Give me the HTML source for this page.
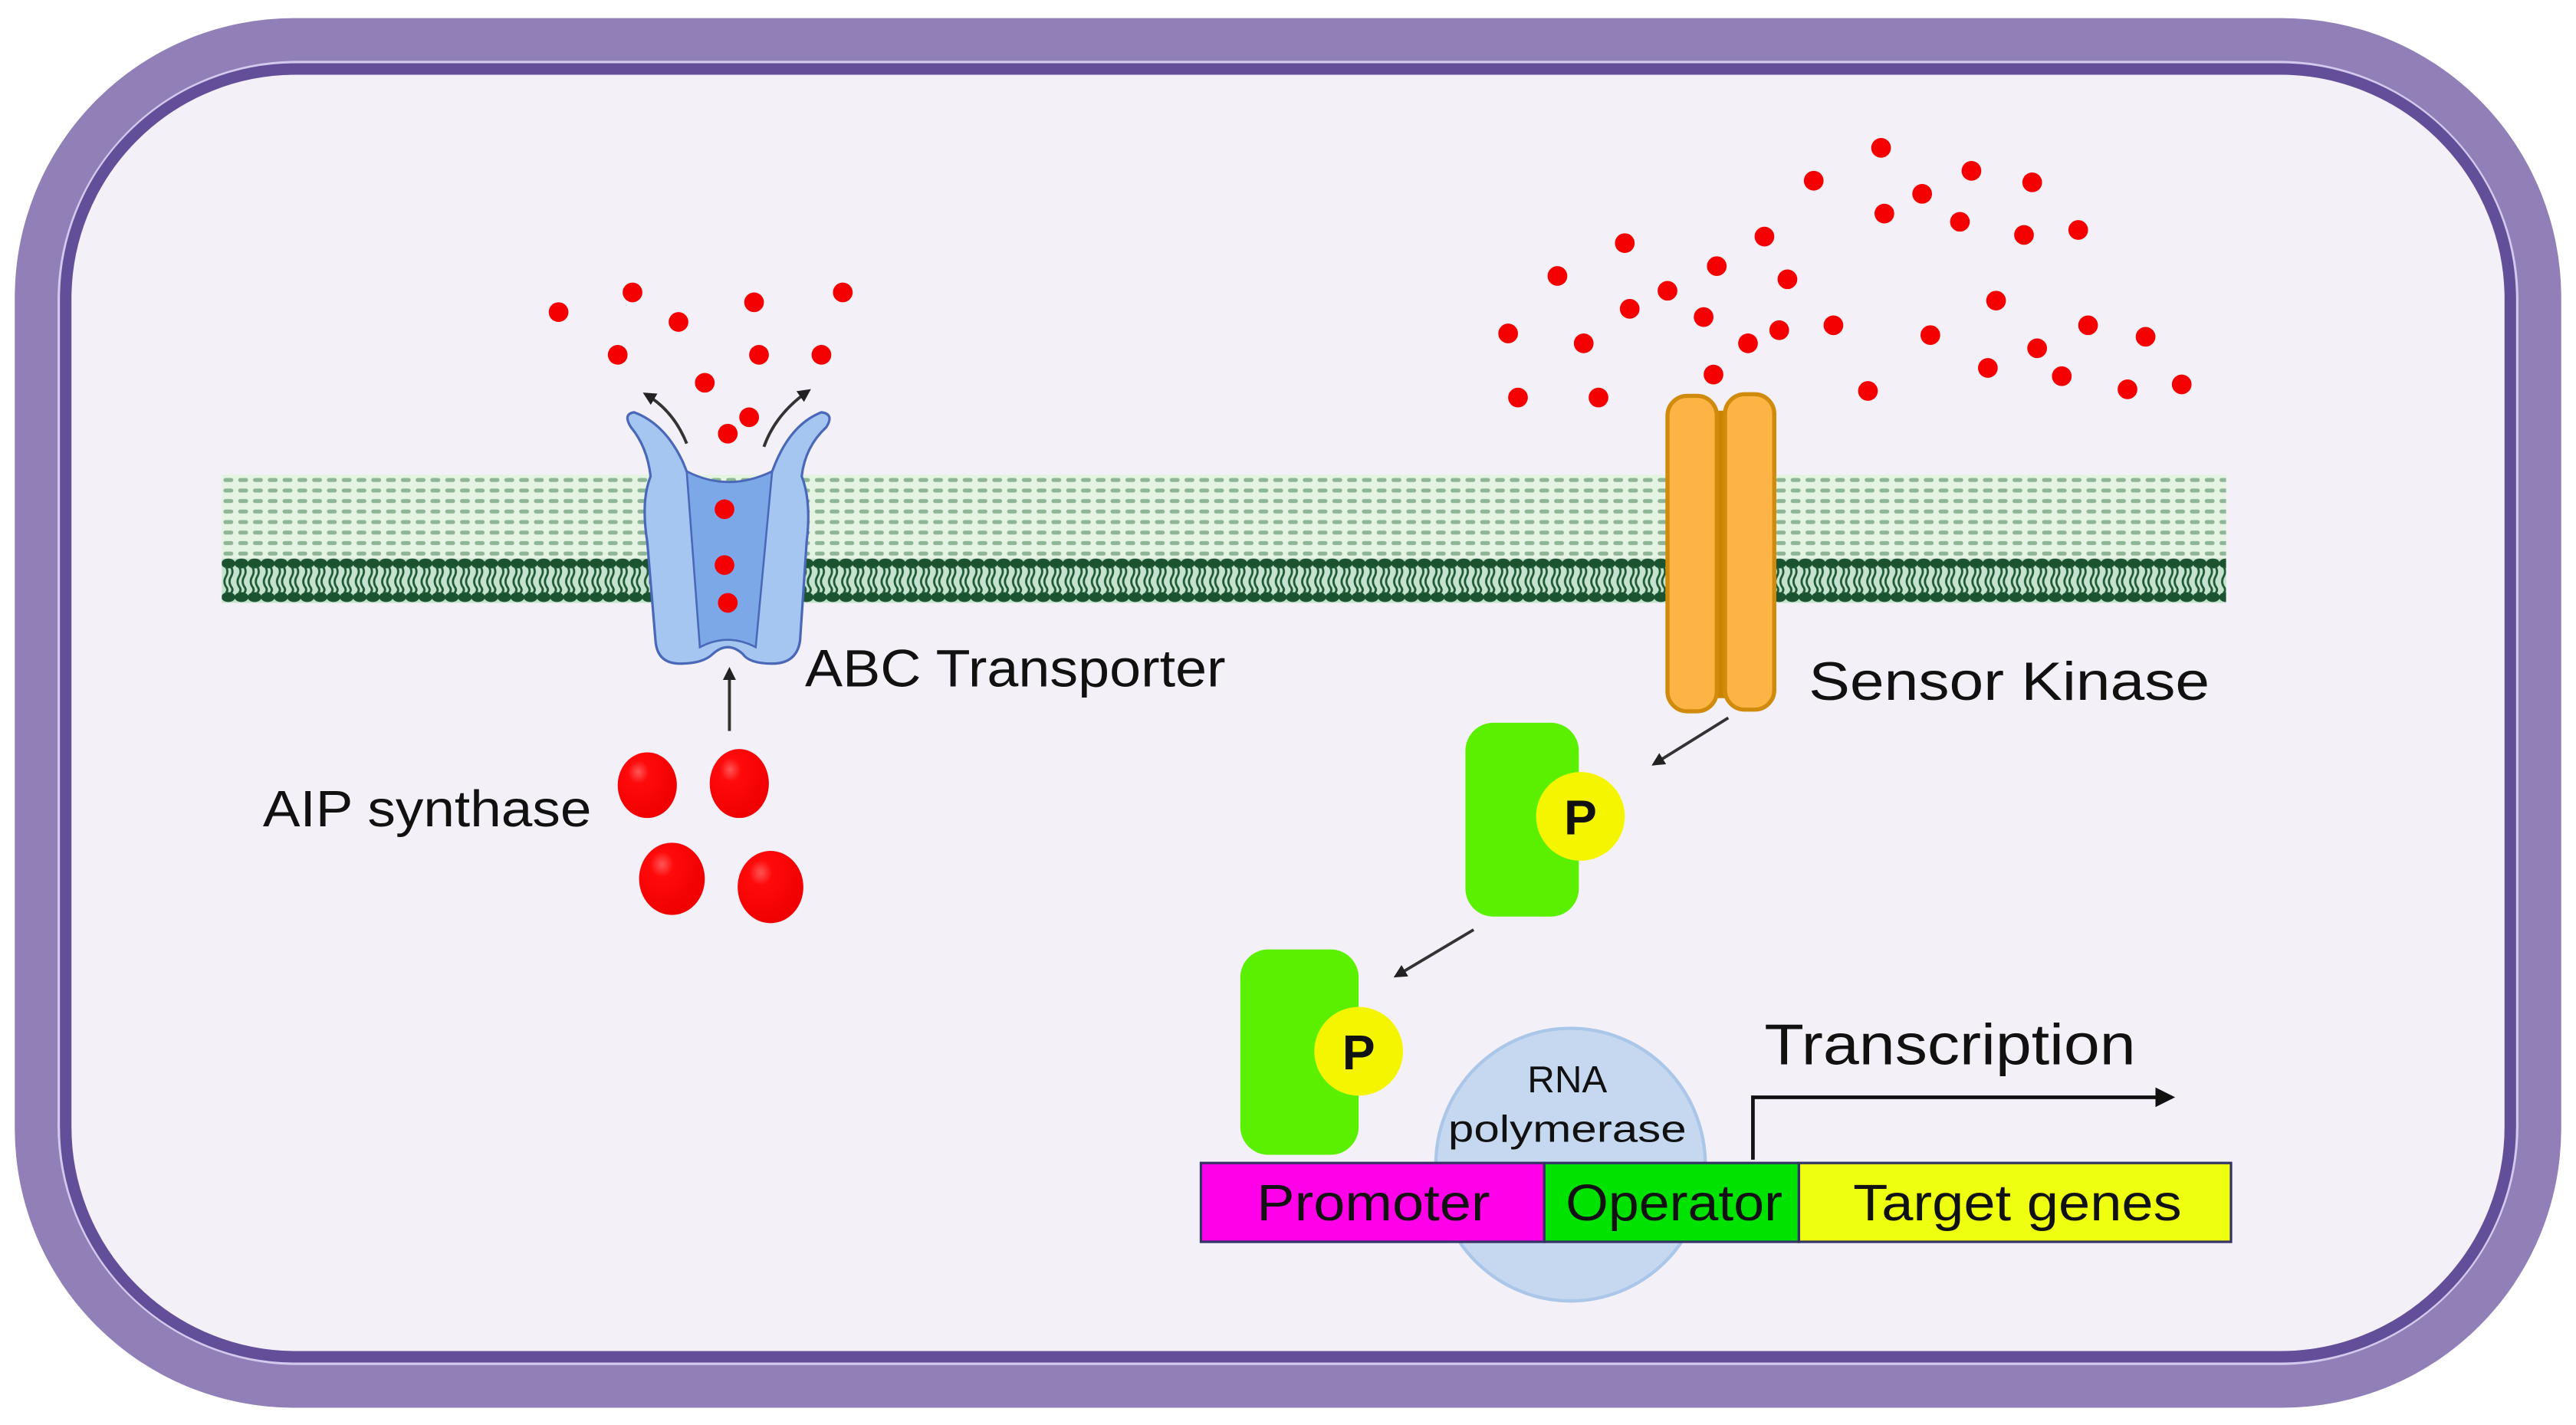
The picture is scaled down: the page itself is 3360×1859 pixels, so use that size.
<!DOCTYPE html>
<html><head><meta charset="utf-8"><style>
html,body{margin:0;padding:0;background:#fff;}
svg{display:block;}
text{font-family:"Liberation Sans",sans-serif;fill:#111;}
</style></head><body>
<svg width="3360" height="1859" viewBox="0 0 1568 867.5" xmlns="http://www.w3.org/2000/svg">
<defs>
<pattern id="lip" x="135" y="289" width="9" height="6.4" patternUnits="userSpaceOnUse">
<rect width="9" height="6.4" fill="#e4f3e2"/>
<rect x="1" y="2" width="6" height="2.4" rx="1.2" fill="#8fb597"/>
</pattern>
<pattern id="heads" x="135" y="340" width="8" height="27" patternUnits="userSpaceOnUse">
<rect width="8" height="27" fill="#c4e2cd"/>
<ellipse cx="4" cy="3" rx="4.2" ry="3" fill="#1b5230"/>
<ellipse cx="4" cy="23.5" rx="4.2" ry="3" fill="#1b5230"/>
<path d="M2.5 5 q1.8 3 0 6 q-1.8 3 0 6 q1.8 2 0 4 M5.6 5 q1.8 3 0 6 q-1.8 3 0 6 q1.8 2 0 4" stroke="#1f5a36" stroke-width="1.3" fill="none"/>
</pattern>
<marker id="ah" markerWidth="8" markerHeight="8" refX="6" refY="4" orient="auto" markerUnits="userSpaceOnUse">
<path d="M0 0 L8 4 L0 8 Z" fill="#222"/>
</marker>
<marker id="ah2" markerWidth="12" markerHeight="12" refX="10" refY="6" orient="auto" markerUnits="userSpaceOnUse">
<path d="M0 0 L12 6 L0 12 Z" fill="#111"/>
</marker>
<radialGradient id="rb" cx="0.35" cy="0.3" r="0.7">
<stop offset="0" stop-color="#ff5555"/><stop offset="0.25" stop-color="#ff0a0a"/><stop offset="1" stop-color="#f00000"/>
</radialGradient>
</defs>
<rect width="1568" height="867.5" fill="#fff"/>
<rect x="9" y="11" width="1550" height="846" rx="170" fill="#917fb8"/>
<rect x="36" y="38" width="1496" height="792" rx="145" fill="none" stroke="#d2caec" stroke-width="2"/>
<rect x="40" y="42" width="1488" height="784" rx="140" fill="#f4f0f7" stroke="#634f99" stroke-width="7"/>
<rect x="135" y="289" width="1220" height="51" fill="url(#lip)"/>
<rect x="135" y="340" width="1220" height="27" fill="url(#heads)"/>
<path d="M384 260 Q379 252 386 251 Q405 258 416 282 L418 287 Q443 300 470 287 L472 282 Q482 258 500 251 Q508 252 503 260 Q490 272 488 290 Q494 305 491 330 L487 390 Q485 404 470 404 Q456 404 452 398 Q443 390 434 398 Q428 404 414 404 Q400 404 399 390 L394 330 Q390 305 396 290 Q394 272 384 260 Z" fill="#a5c6f1" stroke="#4a68b8" stroke-width="1.5"/>
<path d="M418 287 Q443 300 470 287 L460 394 Q443 385 426 394 Z" fill="#7da8e8" stroke="#4a68b8" stroke-width="1.2"/>
<path d="M418 270 Q410 250 393 240" stroke="#333" stroke-width="1.8" fill="none" marker-end="url(#ah)"/>
<path d="M465 272 Q472 252 492 238" stroke="#333" stroke-width="1.8" fill="none" marker-end="url(#ah)"/>
<line x1="444" y1="445" x2="444" y2="408" stroke="#333" stroke-width="1.8" marker-end="url(#ah)"/>
<rect x="1040" y="250" width="15" height="175" fill="#cc8400"/>
<rect x="1015" y="241" width="30" height="192" rx="12" fill="#fdb444" stroke="#d08a0c" stroke-width="2.5"/>
<rect x="1050" y="240" width="30" height="192" rx="12" fill="#fdb444" stroke="#d08a0c" stroke-width="2.5"/>
<g fill="#f40000">
<circle cx="340" cy="190" r="6"/><circle cx="385" cy="178" r="6"/><circle cx="413" cy="196" r="6"/><circle cx="459" cy="184" r="6"/><circle cx="513" cy="178" r="6"/><circle cx="376" cy="216" r="6"/><circle cx="462" cy="216" r="6"/><circle cx="500" cy="216" r="6"/><circle cx="429" cy="233" r="6"/><circle cx="456" cy="254" r="6"/><circle cx="443" cy="264" r="6"/>
<circle cx="441" cy="310" r="6"/><circle cx="441" cy="344" r="6"/><circle cx="443" cy="367" r="6"/>
<circle cx="1104" cy="110" r="6"/><circle cx="1145" cy="90" r="6"/><circle cx="1200" cy="104" r="6"/><circle cx="1237" cy="111" r="6"/><circle cx="1147" cy="130" r="6"/><circle cx="1170" cy="118" r="6"/><circle cx="1193" cy="135" r="6"/><circle cx="1232" cy="143" r="6"/><circle cx="1265" cy="140" r="6"/><circle cx="948" cy="168" r="6"/><circle cx="989" cy="148" r="6"/><circle cx="1045" cy="162" r="6"/><circle cx="1074" cy="144" r="6"/><circle cx="1088" cy="170" r="6"/><circle cx="1015" cy="177" r="6"/><circle cx="992" cy="188" r="6"/><circle cx="1037" cy="193" r="6"/><circle cx="1064" cy="209" r="6"/><circle cx="1083" cy="201" r="6"/><circle cx="1116" cy="198" r="6"/><circle cx="918" cy="203" r="6"/><circle cx="964" cy="209" r="6"/><circle cx="1043" cy="228" r="6"/><circle cx="924" cy="242" r="6"/><circle cx="973" cy="242" r="6"/><circle cx="1137" cy="238" r="6"/><circle cx="1215" cy="183" r="6"/><circle cx="1175" cy="204" r="6"/><circle cx="1271" cy="198" r="6"/><circle cx="1306" cy="205" r="6"/><circle cx="1240" cy="212" r="6"/><circle cx="1210" cy="224" r="6"/><circle cx="1255" cy="229" r="6"/><circle cx="1295" cy="237" r="6"/><circle cx="1328" cy="234" r="6"/>
</g>
<ellipse cx="394" cy="478" rx="18" ry="20" fill="url(#rb)"/>
<ellipse cx="450" cy="477" rx="18" ry="21" fill="url(#rb)"/>
<ellipse cx="409" cy="535" rx="20" ry="22" fill="url(#rb)"/>
<ellipse cx="469" cy="540" rx="20" ry="22" fill="url(#rb)"/>
<text x="490" y="418" font-size="32" textLength="256" lengthAdjust="spacingAndGlyphs">ABC Transporter</text>
<text x="1101" y="426" font-size="33" textLength="244" lengthAdjust="spacingAndGlyphs">Sensor Kinase</text>
<text x="160" y="503" font-size="31" textLength="200" lengthAdjust="spacingAndGlyphs">AIP synthase</text>
<line x1="1052" y1="437" x2="1007" y2="465" stroke="#333" stroke-width="1.8" marker-end="url(#ah)"/>
<rect x="892" y="440" width="69" height="118" rx="17" fill="#5bf000"/>
<circle cx="962" cy="497" r="27" fill="#f5f500"/>
<text x="962" y="508" font-size="30" font-weight="bold" text-anchor="middle">P</text>
<line x1="897" y1="566" x2="850" y2="594" stroke="#333" stroke-width="1.8" marker-end="url(#ah)"/>
<rect x="755" y="578" width="72" height="125" rx="17" fill="#5bf000"/>
<ellipse cx="956" cy="709" rx="82" ry="83" fill="#c5d8f0" stroke="#aac6e8" stroke-width="2"/>
<circle cx="827" cy="640" r="27" fill="#f5f500"/>
<text x="827" y="651" font-size="30" font-weight="bold" text-anchor="middle">P</text>
<text x="954" y="665" font-size="23" text-anchor="middle" fill="#222">RNA</text>
<text x="954" y="695" font-size="23" text-anchor="middle" fill="#222" textLength="145" lengthAdjust="spacingAndGlyphs">polymerase</text>
<rect x="731" y="708" width="209" height="48" fill="#ff00e8" stroke="#333366" stroke-width="1.5"/>
<rect x="940" y="708" width="155" height="48" fill="#00e300" stroke="#333366" stroke-width="1.5"/>
<rect x="1095" y="708" width="263" height="48" fill="#eeff10" stroke="#333366" stroke-width="1.5"/>
<text x="765" y="743" font-size="31" textLength="142" lengthAdjust="spacingAndGlyphs">Promoter</text>
<text x="953" y="743" font-size="31" textLength="132" lengthAdjust="spacingAndGlyphs">Operator</text>
<text x="1128" y="743" font-size="31" textLength="200" lengthAdjust="spacingAndGlyphs">Target genes</text>
<path d="M1067 706 L1067 668 L1322 668" stroke="#111" stroke-width="2.2" fill="none" marker-end="url(#ah2)"/>
<text x="1074" y="648" font-size="35" textLength="226" lengthAdjust="spacingAndGlyphs">Transcription</text>
</svg>
</body></html>
